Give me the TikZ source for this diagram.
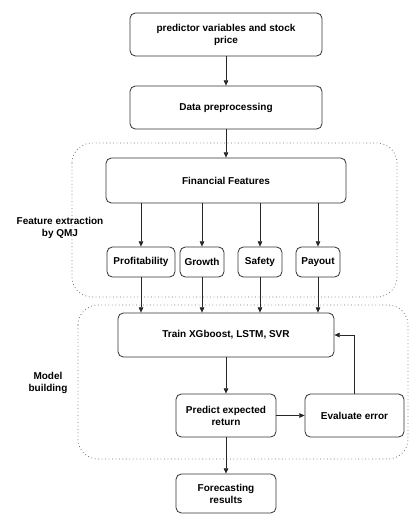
\documentclass[tikz,border=0pt]{standalone}
\usepackage{fontspec}
\setmainfont{Liberation Sans}
\usetikzlibrary{arrows.meta}
\tikzset{
  box/.style={draw=black!80, rounded corners=4pt, line width=0.6pt, align=center, inner sep=1pt,
    font=\bfseries\fontsize{7.5}{9}\selectfont},
  arr/.style={-{Triangle[length=4pt,width=3.5pt]}, line width=0.5pt, draw=black!85},
  grp/.style={draw=black!55, dotted, line width=0.6pt, rounded corners=15pt},
  lbl/.style={align=center, font=\bfseries\fontsize{7.5}{9}\selectfont, inner sep=0pt}
}
\begin{document}
\begin{tikzpicture}[x=0.75pt,y=-0.75pt]
\useasboundingbox (0,0) rectangle (409,515);
\draw[grp] (72,143) rectangle (397,297);
\draw[grp] (78,305) rectangle (408,459);
\node[box, minimum width=192*0.75pt, minimum height=43*0.75pt] (inp) at (226,34.5) {predictor variables and stock\\price};
\node[box, minimum width=192*0.75pt, minimum height=43*0.75pt] (pre) at (226,107.5) {Data preprocessing};
\node[box, minimum width=240*0.75pt, minimum height=45*0.75pt] (ff) at (226,180.5) {Financial Features};
\node[box, minimum width=68*0.75pt, minimum height=30*0.75pt] (prof) at (141,262) {Profitability};
\node[box, minimum width=44*0.75pt, minimum height=30*0.75pt] (grow) at (202,262) {Growth};
\node[box, minimum width=44*0.75pt, minimum height=30*0.75pt] (safe) at (260,262) {Safety};
\node[box, minimum width=44*0.75pt, minimum height=30*0.75pt] (pay) at (318,262) {Payout};
\node[box, minimum width=216*0.75pt, minimum height=44*0.75pt] (train) at (226,335) {Train XGboost, LSTM, SVR};
\node[box, minimum width=100*0.75pt, minimum height=43*0.75pt] (pred) at (226,415.5) {Predict expected\\return};
\node[box, minimum width=99*0.75pt, minimum height=43*0.75pt] (eval) at (354.5,415.5) {Evaluate error};
\node[box, minimum width=100*0.75pt, minimum height=39*0.75pt] (fore) at (226,493.5) {Forecasting\\results};
\node[lbl] (l1) at (60,228) {Feature extraction\\by QMJ};
\node[lbl] (l2) at (48,383) {Model\\building};
\draw[arr] (inp) -- (pre);
\draw[arr] (pre) -- (ff);
\foreach \n in {prof,grow,safe,pay} {
  \draw[arr] (ff.south -| \n) -- (\n);
  \draw[arr] (\n) -- (train.north -| \n);
}
\draw[arr] (train) -- (pred);
\draw[arr] (pred) -- (eval);
\draw[arr] (pred) -- (fore);
\draw[arr] (eval.north) |- (train.east);
\end{tikzpicture}
\end{document}
